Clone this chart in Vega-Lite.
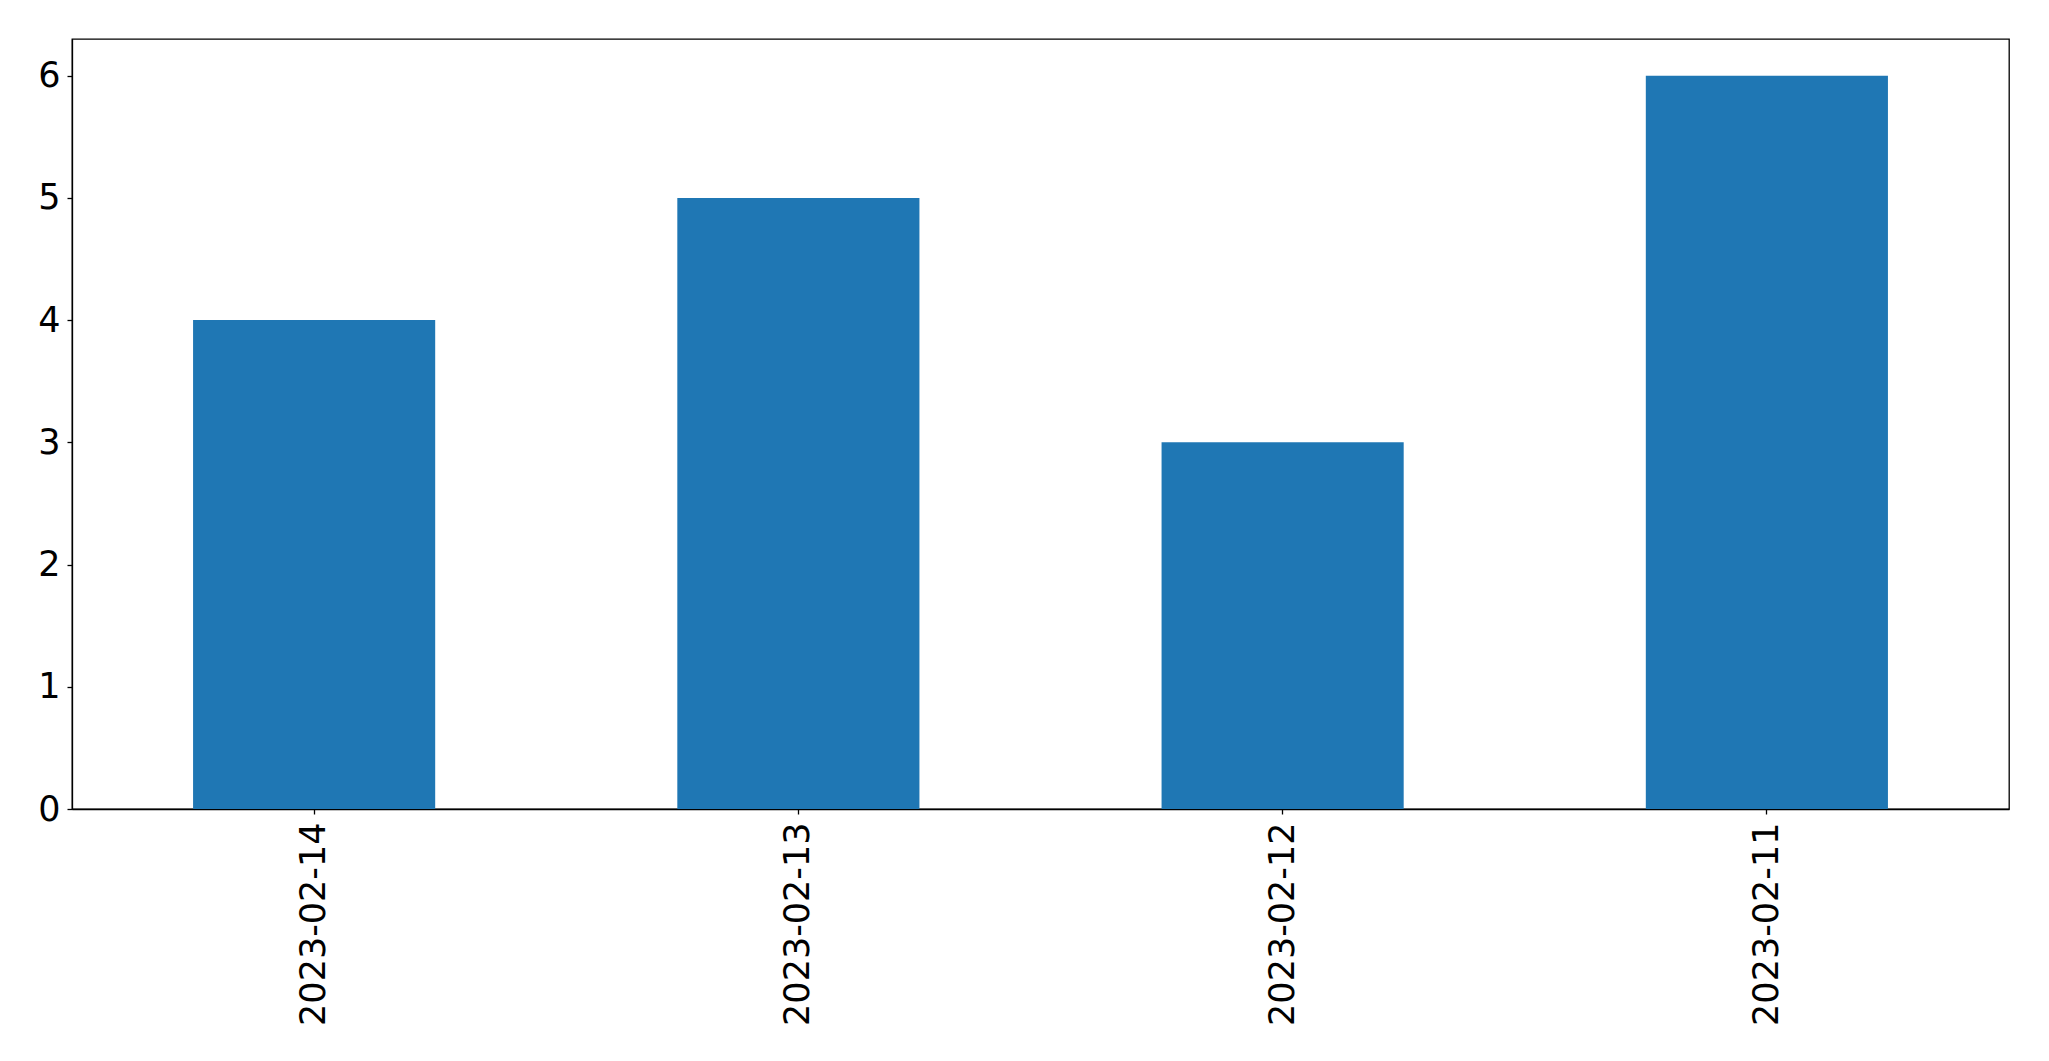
{
  "$schema": "https://vega.github.io/schema/vega-lite/v6.json",
  "autosize": {"type": "none"},
  "padding": {"left": 72, "top": 39, "right": 40, "bottom": 252},
  "width": 1937,
  "height": 770,
  "background": "white",
  "config": {
    "view": {"stroke": "black", "strokeWidth": 1.3},
    "font": "DejaVu Sans",
    "axis": {
      "labelFont": "DejaVu Sans",
      "labelFontSize": 35,
      "labelLimit": 0,
      "labelColor": "black",
      "domainColor": "black",
      "domainWidth": 1.3,
      "tickColor": "black",
      "tickWidth": 1.3,
      "tickSize": 5,
      "grid": false,
      "title": null
    }
  },
  "data": {
    "values": [
      {"date": "2023-02-14", "count": 4},
      {"date": "2023-02-13", "count": 5},
      {"date": "2023-02-12", "count": 3},
      {"date": "2023-02-11", "count": 6}
    ]
  },
  "mark": {"type": "bar", "color": "#1f77b4"},
  "encoding": {
    "x": {
      "field": "date",
      "type": "nominal",
      "sort": null,
      "scale": {"paddingInner": 0.5, "paddingOuter": 0.25},
      "axis": {"labelAngle": 270, "labelPadding": 8, "labelAlign": "right", "labelBaseline": "middle"}
    },
    "y": {
      "field": "count",
      "type": "quantitative",
      "scale": {"domain": [0, 6.3], "nice": false},
      "axis": {"values": [0, 1, 2, 3, 4, 5, 6], "labelPadding": 7}
    }
  }
}
